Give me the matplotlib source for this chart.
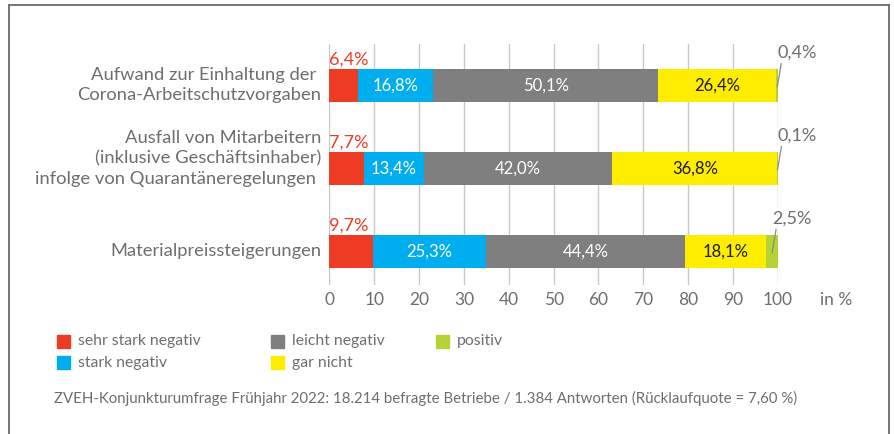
import matplotlib.pyplot as plt
from matplotlib.lines import Line2D
from matplotlib.patches import Rectangle

plt.rcParams["font.family"] = ["Lato", "DejaVu Sans"]

categories = [
    "Aufwand zur Einhaltung der \nCorona-Arbeitschutzvorgaben",
    "Ausfall von Mitarbeitern\n(inklusive Geschäftsinhaber)\ninfolge von Quarantäneregelungen ",
    "Materialpreissteigerungen",
]
series_names = ["sehr stark negativ", "stark negativ", "leicht negativ", "gar nicht", "positiv"]
sehr_stark_negativ = [6.4, 7.7, 9.7]
stark_negativ = [16.8, 13.4, 25.3]
leicht_negativ = [50.1, 42.0, 44.4]
gar_nicht = [26.4, 36.8, 18.1]
positiv = [0.4, 0.1, 2.5]
x_ticks = [0, 10, 20, 30, 40, 50, 60, 70, 80, 90, 100]
footnote = ("ZVEH-Konjunkturumfrage Frühjahr 2022: 18.214 befragte Betriebe / "
            "1.384 Antworten (Rücklaufquote = 7,60 %)")

colors = ["#ee3b24", "#00aeef", "#7f7f80", "#ffed00", "#b5d334"]
text_colors = [None, "white", "white", "#1a1a1a", None]
grey_text = "#6d6e71"


def fmt(v):
    return f"{v:.1f}".replace(".", ",") + "%"


W, H = 895, 434
fig = plt.figure(figsize=(W / 100, H / 100), dpi=100)
ax = fig.add_axes([329.5 / W, 1 - 285 / H, 448.2 / W, 241 / H])

series = [sehr_stark_negativ, stark_negativ, leicht_negativ, gar_nicht, positiv]
ypos = list(range(len(categories)))
left = [0.0] * len(categories)
for vals, col, tcol in zip(series, colors, text_colors):
    ax.barh(ypos, vals, left=left, height=0.4, color=col, zorder=3)
    if tcol is not None:
        for y, l, v in zip(ypos, left, vals):
            ax.text(l + v / 2, y, fmt(v), ha="center", va="center",
                    color=tcol, fontsize=12, zorder=4)
    left = [l + v for l, v in zip(left, vals)]

# red labels above the first segment
for y, v in zip(ypos, sehr_stark_negativ):
    ax.annotate(fmt(v), xy=(0, y - 0.2), xytext=(0, 1), textcoords="offset points",
                ha="left", va="bottom", color=colors[0], fontsize=13)

# small "positiv" values with leader lines
for y, v, tot in zip(ypos, positiv, left):
    ax.annotate(fmt(v), xy=(tot - v / 2, y + 0.02), xytext=(0, 19), textcoords="offset points",
                ha="left", va="bottom", color=grey_text, fontsize=13,
                arrowprops=dict(arrowstyle="-", color="#8a8a8a", lw=0.9,
                                shrinkA=0, shrinkB=0, relpos=(0.12, 0.1)))

ax.set_xlim(0, 100)
ax.set_ylim(2.406, -0.498)
ax.set_xticks(x_ticks)
ax.set_xticklabels([str(t) for t in x_ticks], color=grey_text, fontsize=12.5)
ax.tick_params(axis="x", length=0, pad=5)
ax.set_yticks([])
ax.grid(axis="x", color="#c8c8c8", lw=1, zorder=0)
for s in ax.spines.values():
    s.set_visible(False)

# category labels
nudges = [0, 7, 0]
for y, cat, dy in zip(ypos, categories, nudges):
    ax.annotate(cat, xy=(0, y), xycoords=("axes fraction", "data"),
                xytext=(-6, dy), textcoords="offset points",
                ha="right", va="center", color=grey_text, fontsize=13.2,
                linespacing=1.32)

fig.text(820 / W, 1 - 300 / H, "in %", ha="left", va="center", color=grey_text, fontsize=12.5)

# legend
legend_pos = [(57, 335), (57, 356), (271, 335), (271, 356), (436, 335)]
for name, col, (lx, ly) in zip(series_names, colors, legend_pos):
    fig.add_artist(Rectangle((lx / W, 1 - (ly + 13.3) / H), 13.3 / W, 13.3 / H,
                             transform=fig.transFigure, color=col))
    fig.text((lx + 21) / W, 1 - (ly + 6.5) / H, name, ha="left", va="center",
             color=grey_text, fontsize=11.3)

fig.text(54 / W, 1 - 398 / H, footnote, ha="left", va="center", color=grey_text, fontsize=10.85)

# outer frame
frame_kw = dict(transform=fig.transFigure, color="#6a6a6a", lw=1.3)
fig.add_artist(Line2D([8.5 / W, 8.5 / W], [0, 1 - 5 / H], **frame_kw))
fig.add_artist(Line2D([8.5 / W, 889 / W], [1 - 5 / H, 1 - 5 / H], **frame_kw))
fig.add_artist(Line2D([889 / W, 889 / W], [0, 1 - 5 / H], **frame_kw))

fig.savefig("out.png", dpi=100)
